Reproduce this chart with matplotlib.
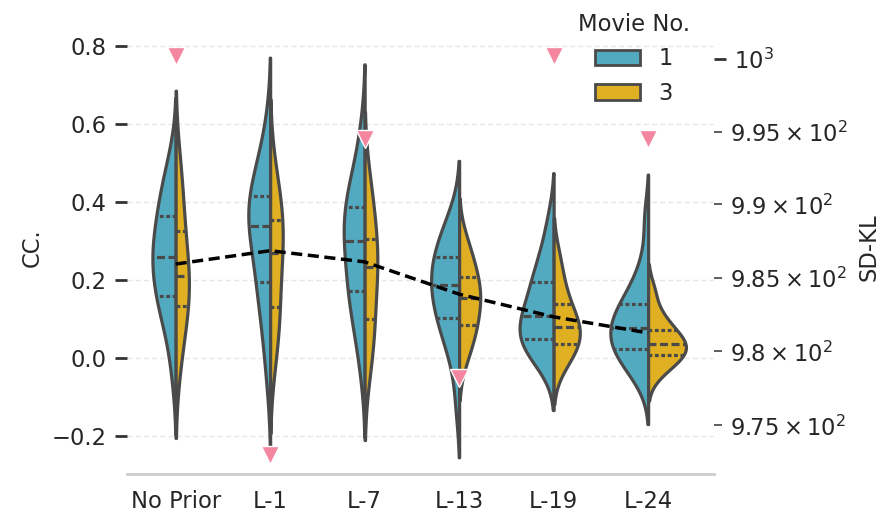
import numpy as np
import matplotlib.pyplot as plt
from matplotlib.patches import Patch

categories = ["No Prior", "L-1", "L-7", "L-13", "L-19", "L-24"]
movies = ["1", "3"]

# CC per run, movie 1 and movie 3 for each prior setting
noprior_m1 = [-0.04, 0.05, 0.10, 0.13, 0.15, 0.16, 0.19, 0.22, 0.24, 0.255,
              0.265, 0.28, 0.30, 0.33, 0.36, 0.38, 0.40, 0.43, 0.47, 0.51]
noprior_m3 = [-0.02, 0.06, 0.11, 0.14, 0.17, 0.20, 0.22, 0.26, 0.31, 0.37, 0.43, 0.50]
l1_m1 = [-0.05, 0.04, 0.10, 0.15, 0.18, 0.20, 0.24, 0.28, 0.31, 0.33,
         0.345, 0.36, 0.38, 0.39, 0.41, 0.43, 0.45, 0.48, 0.52, 0.59]
l1_m3 = [-0.01, 0.06, 0.10, 0.14, 0.20, 0.25, 0.29, 0.32, 0.35, 0.37, 0.42, 0.48]
l7_m1 = [-0.03, 0.05, 0.09, 0.13, 0.16, 0.175, 0.20, 0.23, 0.26, 0.29,
         0.31, 0.33, 0.35, 0.36, 0.38, 0.41, 0.43, 0.46, 0.50, 0.58]
l7_m3 = [-0.03, 0.03, 0.07, 0.11, 0.17, 0.22, 0.245, 0.27, 0.29, 0.35, 0.40, 0.45]
l13_m1 = [-0.12, -0.01, 0.03, 0.06, 0.09, 0.105, 0.12, 0.14, 0.16, 0.18,
          0.195, 0.20, 0.22, 0.24, 0.255, 0.27, 0.29, 0.31, 0.34, 0.37]
l13_m3 = [0.0, 0.04, 0.07, 0.09, 0.12, 0.145, 0.16, 0.18, 0.20, 0.23, 0.26, 0.30]
l19_m1 = [-0.02, 0.0, 0.02, 0.035, 0.04, 0.05, 0.06, 0.075, 0.09, 0.10,
          0.115, 0.13, 0.15, 0.17, 0.19, 0.21, 0.23, 0.26, 0.30, 0.36]
l19_m3 = [-0.02, 0.01, 0.025, 0.04, 0.06, 0.075, 0.085, 0.10, 0.13, 0.16, 0.20, 0.26]
l24_m1 = [-0.06, -0.03, -0.01, 0.005, 0.015, 0.025, 0.04, 0.05, 0.06, 0.07,
          0.085, 0.095, 0.105, 0.12, 0.135, 0.15, 0.17, 0.20, 0.25, 0.36]
l24_m3 = [-0.04, -0.015, 0.0, 0.01, 0.02, 0.03, 0.04, 0.05, 0.065, 0.09, 0.11, 0.17]

# mean SD-KL per setting (right axis)
sd_kl = [985.93, 986.84, 986.08, 983.88, 982.34, 981.25]
# triangle markers (CC)
marker_cc = [0.776, -0.249, 0.563, -0.052, 0.776, 0.562]

m1_runs = [noprior_m1, l1_m1, l7_m1, l13_m1, l19_m1, l24_m1]
m3_runs = [noprior_m3, l1_m3, l7_m3, l13_m3, l19_m3, l24_m3]

teal = "#52aac0"
gold = "#e0b022"
pink = "#f4879f"
edge = "#4a4a4a"
txt = "#262626"
fs = 16.3

plt.rcParams["font.family"] = "DejaVu Sans"
plt.rcParams["text.color"] = txt
plt.rcParams["axes.labelcolor"] = txt


def kde(vals, cut=2, n=300):
    vals = np.asarray(vals, float)
    bw = vals.std(ddof=1) * len(vals) ** (-1 / 5)
    y = np.linspace(vals.min() - cut * bw, vals.max() + cut * bw, n)
    d = np.exp(-0.5 * ((y[:, None] - vals[None, :]) / bw) ** 2).sum(1)
    d /= len(vals) * bw * np.sqrt(2 * np.pi)
    return y, d * len(vals)  # weighted by count (common norm)


fig = plt.figure(figsize=(8.84, 5.16), dpi=100)
ax = fig.add_axes([0.1431, 0.0806, 0.6649, 0.8806])

curves = []
for i in range(len(categories)):
    for side, vals, col in ((-1, m1_runs[i], teal), (1, m3_runs[i], gold)):
        y, d = kde(vals)
        curves.append((i, side, vals, col, y, d))
gmax = max(c[5].max() for c in curves)

for i, side, vals, col, y, d in curves:
    w = d / gmax * 0.4
    ax.fill_betweenx(y, i, i + side * w, facecolor=col, edgecolor=edge,
                     lw=2.3, zorder=2)
    q1, med, q3 = np.percentile(vals, [25, 50, 75])
    for q, ls in ((q1, (0, (1.2, 0.8))), (med, (0, (2.5, 1.1))), (q3, (0, (1.2, 0.8)))):
        wq = np.interp(q, y, w)
        ax.plot([i, i + side * wq], [q, q], color=edge, lw=2.3, ls=ls,
                solid_capstyle="butt", zorder=3)

ax.plot(range(len(categories)), marker_cc, ls="none", marker="v", ms=12.5,
        mfc=pink, mec="white", mew=1, zorder=5)

ax.set_xlim(-0.52, 5.70)
ax.set_ylim(-0.30, 0.868)
ax.set_xticks(range(len(categories)), categories)
ax.set_yticks([-0.2, 0.0, 0.2, 0.4, 0.6, 0.8])
ax.yaxis.grid(True, ls=(0, (3.7, 2.2)), color="#e6e6e6", lw=1)
ax.set_axisbelow(True)
ax.tick_params(axis="y", length=8.6, width=2, pad=5.5, color="#333333",
               labelsize=fs, labelcolor=txt)
ax.tick_params(axis="x", length=0, pad=11, labelsize=fs, labelcolor=txt)
ax.set_ylabel("CC.", fontsize=fs, labelpad=6)

ax2 = ax.twinx()
ax2.plot(range(len(categories)), sd_kl, color="black", ls="--", lw=2.5,
         dashes=(3.2, 1.6), zorder=4)
ax2.set_yscale("log")
ax2.set_ylim(971.7, 1002.7)
ax2.tick_params(which="major", length=8.6, width=2, pad=5.8, color="#333333",
                labelsize=fs, labelcolor=txt)
ax2.tick_params(which="minor", length=5.7, width=1.1, pad=5.8, color="#333333",
                labelsize=fs, labelcolor=txt)
ax2.set_ylabel("SD-KL", fontsize=fs, labelpad=7)

for a in (ax, ax2):
    for s in a.spines.values():
        s.set_visible(False)
ax.spines["bottom"].set_visible(True)
ax.spines["bottom"].set_color("#cccccc")
ax.spines["bottom"].set_linewidth(2)

handles = [Patch(facecolor=teal, edgecolor=edge, lw=2, label=movies[0]),
           Patch(facecolor=gold, edgecolor=edge, lw=2, label=movies[1])]
fig.legend(handles=handles, title="Movie No.", loc="upper center",
           bbox_to_anchor=(634 / 884, 1.014), frameon=False, fontsize=fs,
           title_fontsize=fs)

fig.savefig("out.png", dpi=100)
